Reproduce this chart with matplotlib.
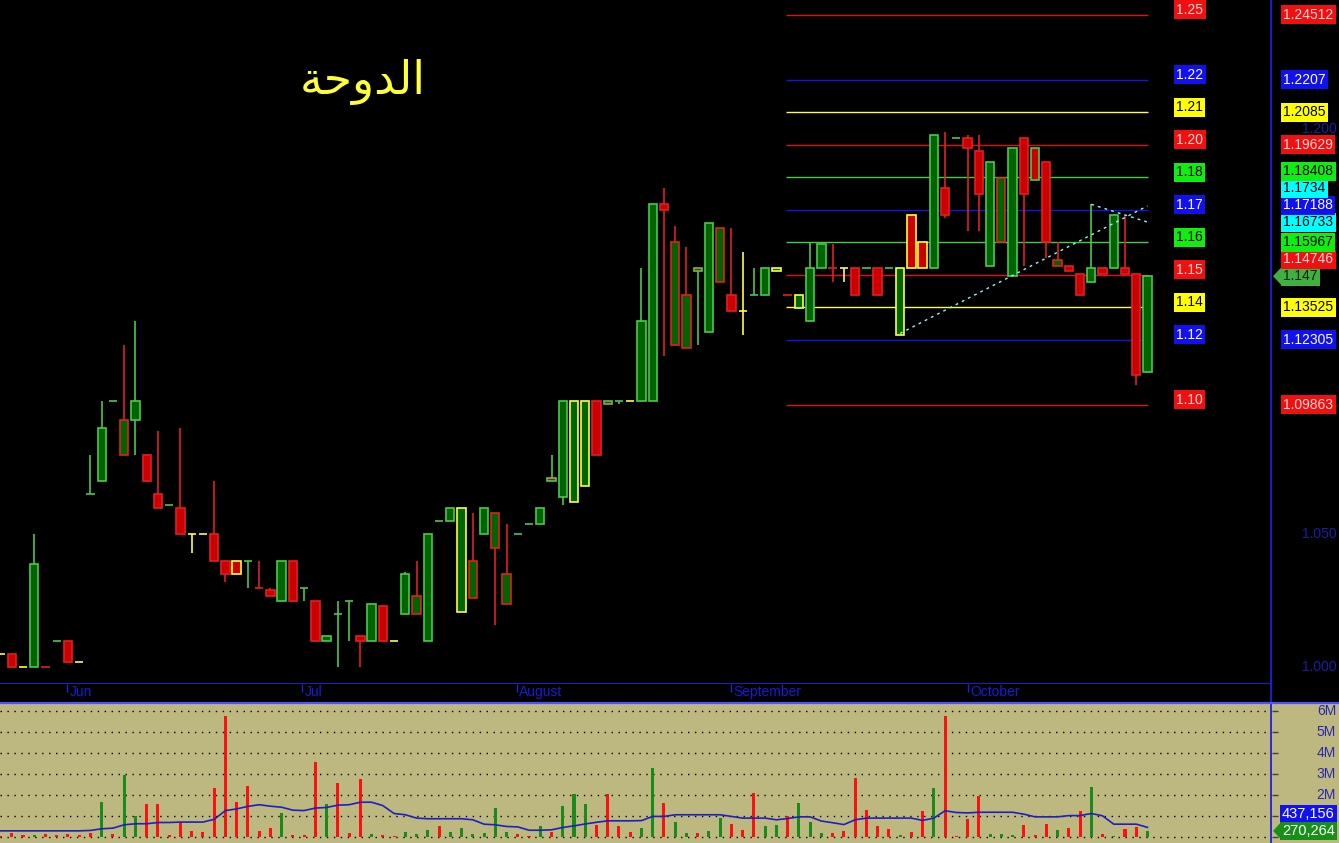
import numpy as np
import matplotlib
matplotlib.use('Agg')
import matplotlib.pyplot as plt
from matplotlib.lines import Line2D
from matplotlib.patches import Polygon

plt.rcParams['font.family'] = ['Liberation Sans', 'DejaVu Sans']

# chart title (Doha), written with Arabic presentation forms in visual order
title = '\ufe94\ufea3\ufeed\ufeaa\ufedf\ufe8d'

# daily OHLC, one entry per trading day
opens = [1.005, 1.005, 1.000, 1.000, 1.000, 1.010, 1.010, 1.002, 1.065, 1.070,
         1.100, 1.080, 1.093, 1.080, 1.065, 1.061, 1.060, 1.050, 1.050, 1.050,
         1.040, 1.040, 1.040, 1.030, 1.029, 1.025, 1.040, 1.030, 1.025, 1.010,
         1.020, 1.025, 1.012, 1.010, 1.023, 1.010, 1.020, 1.020, 1.010, 1.055,
         1.055, 1.021, 1.026, 1.050, 1.045, 1.024, 1.050, 1.054, 1.054, 1.071,
         1.064, 1.062, 1.068, 1.100, 1.100, 1.100, 1.100, 1.100, 1.100, 1.174,
         1.121, 1.120, 1.150, 1.126, 1.145, 1.140, 1.134, 1.140, 1.140, 1.149,
         1.140, 1.135, 1.130, 1.150, 1.150, 1.150, 1.150, 1.150, 1.150, 1.150,
         1.125, 1.170, 1.160, 1.150, 1.180, 1.199, 1.199, 1.194, 1.151, 1.160,
         1.147, 1.199, 1.195, 1.190, 1.151, 1.151, 1.148, 1.145, 1.150, 1.150,
         1.150, 1.148, 1.111]
highs = [1.005, 1.005, 1.000, 1.050, 1.000, 1.010, 1.010, 1.002, 1.080, 1.100,
         1.100, 1.121, 1.130, 1.080, 1.089, 1.061, 1.090, 1.050, 1.050, 1.070,
         1.040, 1.040, 1.040, 1.040, 1.030, 1.040, 1.040, 1.030, 1.025, 1.012,
         1.025, 1.025, 1.012, 1.024, 1.023, 1.010, 1.036, 1.040, 1.050, 1.055,
         1.060, 1.060, 1.058, 1.060, 1.058, 1.054, 1.050, 1.054, 1.060, 1.080,
         1.100, 1.100, 1.100, 1.100, 1.100, 1.100, 1.100, 1.150, 1.174, 1.180,
         1.166, 1.158, 1.150, 1.167, 1.165, 1.165, 1.156, 1.150, 1.150, 1.150,
         1.140, 1.140, 1.160, 1.159, 1.159, 1.150, 1.150, 1.150, 1.150, 1.150,
         1.150, 1.170, 1.160, 1.200, 1.201, 1.199, 1.200, 1.200, 1.190, 1.184,
         1.195, 1.199, 1.195, 1.190, 1.160, 1.151, 1.148, 1.174, 1.150, 1.170,
         1.170, 1.148, 1.147]
lows = [1.005, 1.000, 1.000, 1.000, 1.000, 1.010, 1.002, 1.002, 1.065, 1.070,
        1.100, 1.080, 1.080, 1.070, 1.060, 1.061, 1.050, 1.043, 1.050, 1.040,
        1.032, 1.035, 1.030, 1.030, 1.027, 1.025, 1.025, 1.025, 1.010, 1.010,
        1.000, 1.010, 1.000, 1.010, 1.010, 1.010, 1.020, 1.020, 1.010, 1.055,
        1.055, 1.021, 1.026, 1.050, 1.016, 1.024, 1.050, 1.054, 1.054, 1.070,
        1.061, 1.062, 1.068, 1.080, 1.099, 1.099, 1.100, 1.100, 1.100, 1.117,
        1.121, 1.120, 1.121, 1.126, 1.145, 1.134, 1.125, 1.140, 1.140, 1.149,
        1.140, 1.135, 1.130, 1.150, 1.145, 1.145, 1.140, 1.150, 1.140, 1.150,
        1.125, 1.150, 1.150, 1.150, 1.169, 1.199, 1.164, 1.164, 1.151, 1.160,
        1.147, 1.151, 1.183, 1.154, 1.151, 1.149, 1.140, 1.145, 1.148, 1.150,
        1.148, 1.106, 1.111]
closes = [1.005, 1.000, 1.000, 1.039, 1.000, 1.010, 1.002, 1.002, 1.065, 1.090,
          1.100, 1.093, 1.100, 1.070, 1.060, 1.061, 1.050, 1.050, 1.050, 1.040,
          1.035, 1.035, 1.040, 1.030, 1.027, 1.040, 1.025, 1.030, 1.010, 1.012,
          1.020, 1.025, 1.010, 1.024, 1.010, 1.010, 1.035, 1.027, 1.050, 1.055,
          1.060, 1.060, 1.040, 1.060, 1.058, 1.035, 1.050, 1.054, 1.060, 1.070,
          1.100, 1.100, 1.100, 1.080, 1.099, 1.100, 1.100, 1.130, 1.174, 1.172,
          1.160, 1.140, 1.149, 1.167, 1.165, 1.134, 1.134, 1.140, 1.150, 1.150,
          1.140, 1.140, 1.150, 1.159, 1.150, 1.150, 1.140, 1.150, 1.140, 1.150,
          1.150, 1.150, 1.150, 1.200, 1.170, 1.199, 1.195, 1.178, 1.190, 1.184,
          1.195, 1.178, 1.183, 1.160, 1.153, 1.149, 1.140, 1.150, 1.148, 1.170,
          1.148, 1.110, 1.147]

# volume in millions and its moving average (millions)
volume = [0.03, 0.19, 0.08, 0.06, 0.13, 0.08, 0.14, 0.08, 0.19, 1.63,
          0.11, 2.95, 0.99, 1.56, 1.56, 0.08, 0.67, 0.27, 0.22, 2.33,
          5.77, 1.67, 2.42, 0.27, 0.43, 1.13, 0.08, 0.06, 3.56, 1.56,
          2.58, 0.19, 2.76, 0.13, 0.08, 0.03, 0.22, 0.14, 0.32, 0.48,
          0.22, 0.43, 0.13, 0.18, 1.34, 0.22, 0.13, 0.03, 0.51, 0.22,
          1.47, 2.04, 1.56, 0.53, 2.04, 0.48, 0.22, 0.43, 3.27, 1.59,
          0.69, 0.18, 0.19, 0.27, 0.89, 0.59, 0.33, 2.09, 0.51, 0.57,
          0.97, 1.61, 0.70, 0.18, 0.18, 0.27, 2.81, 1.28, 0.48, 0.38,
          0.06, 0.22, 1.20, 2.34, 5.77, 0.03, 0.85, 1.95, 0.13, 0.13,
          0.06, 0.57, 0.08, 0.62, 0.32, 0.43, 1.24, 2.38, 0.13, 0.03,
          0.38, 0.45, 0.270264]
vol_ma = [0.27, 0.27, 0.27, 0.27, 0.27, 0.27, 0.27, 0.27, 0.29, 0.37,
          0.40, 0.56, 0.61, 0.61, 0.67, 0.67, 0.69, 0.69, 0.69, 0.82,
          1.24, 1.32, 1.44, 1.52, 1.45, 1.40, 1.26, 1.24, 1.36, 1.39,
          1.50, 1.52, 1.64, 1.64, 1.48, 1.10, 1.04, 0.88, 0.85, 0.85,
          0.85, 0.85, 0.80, 0.59, 0.56, 0.48, 0.46, 0.30, 0.30, 0.32,
          0.43, 0.51, 0.60, 0.68, 0.75, 0.75, 0.75, 0.76, 0.96, 0.96,
          1.04, 1.04, 1.04, 1.04, 1.04, 0.96, 0.88, 0.88, 0.88, 0.80,
          0.86, 0.94, 0.94, 0.74, 0.66, 0.57, 0.80, 0.88, 0.88, 0.88,
          0.88, 0.88, 0.77, 0.88, 1.23, 1.15, 1.13, 1.16, 1.16, 1.16,
          1.16, 1.07, 0.94, 0.94, 0.94, 1.00, 1.00, 1.10, 0.99, 0.59,
          0.59, 0.59, 0.437156]

# retracement levels drawn over the recent range
levels = [1.24512, 1.2207, 1.2085, 1.19629, 1.18408, 1.17188,
          1.15967, 1.14746, 1.13525, 1.12305, 1.09863]
level_colors = ['red', 'blue', 'yellow', 'red', 'green', 'blue',
                'green', 'red', 'yellow', 'blue', 'red']
level_start, level_end = 69.85, 102.05

# trend lines (bar index, price)
trend1_x = [80, 102]
trend1_y = [1.1255, 1.1734]
trend2_x = [97, 102]
trend2_y = [1.174, 1.16733]

month_names = ['Jun', 'Jul', 'August', 'September', 'October']
month_pos = [5.9, 26.8, 45.9, 64.95, 86.0]

# price axis labels that are not covered by the level tags
price_ticks = [1.000, 1.050, 1.200]
vol_ticks = [2, 3, 4, 5, 6]

# palette
GRN_EDGE = '#4cc84c'
GRN_FILL = '#006400'
RED_EDGE = '#e02020'
RED_FILL = '#cc0000'
YEL = '#ffff38'
box_fc = {'red': '#f01010', 'blue': '#1010f0', 'yellow': '#ffff00',
          'green': '#10ee10', 'cyan': '#00ffff'}
box_tc = {'red': '#ffd8d8', 'blue': 'white', 'yellow': 'black',
          'green': 'black', 'cyan': 'black'}
line_c = {'red': '#e01010', 'blue': '#1515e0', 'yellow': '#ffff40',
          'green': '#40d040'}
AXBLUE = '#2020e0'
TXTBLUE = '#1c1ca8'
KHAKI = '#bdb880'

W, H = 1339, 843
STEP = 11.245      # pixels per bar
PXU = 2662.0       # pixels per price unit
Y1 = 667.5         # pixel row of price 1.000
VPX = 20.9         # pixels per million shares
V0 = 836.5         # pixel row of zero volume


def ix(px):
    return (px - 0.5) / STEP


def pr(py):
    return 1 + (Y1 - py) / PXU


def vm(py):
    return (V0 - py) / VPX


fig = plt.figure(figsize=(W / 100, H / 100), dpi=100, facecolor='black')
ax = fig.add_axes([0, (H - 684) / H, 1, 684 / H])
axv = fig.add_axes([0, 0, 1, (H - 703) / H])
for a, fc in ((ax, 'black'), (axv, KHAKI)):
    a.set_facecolor(fc)
    a.set_xlim(ix(0), ix(W))
    a.set_xticks([])
    a.set_yticks([])
    for s in a.spines.values():
        s.set_visible(False)
ax.set_ylim(pr(684), pr(0))
axv.set_ylim(vm(H), vm(703))

n = len(closes)
x = np.arange(n)
o = np.array(opens)
c = np.array(closes)
prev = np.concatenate([[c[0]], c[:-1]])

edge = [GRN_EDGE if c[i] > prev[i] + 1e-9 else RED_EDGE if c[i] < prev[i] - 1e-9 else YEL
        for i in range(n)]
fill = [GRN_FILL if c[i] > o[i] else RED_FILL if c[i] < o[i] else edge[i] for i in range(n)]

ax.vlines(x, lows, highs, colors=edge, lw=1.2, zorder=3)
ax.bar(x, np.abs(c - o), width=0.74, bottom=np.minimum(o, c), color=fill,
       edgecolor=edge, lw=1.2, zorder=4)

# levels and their labels
ax.hlines(levels, level_start, level_end, colors=[line_c[k] for k in level_colors],
          lw=1, zorder=2)
for v, k in zip(levels, level_colors):
    ax.text(ix(1176), v + 5 / PXU, f'{v:.2f}', fontsize=10, color=box_tc[k],
            va='center', ha='left', zorder=6,
            bbox=dict(boxstyle='square,pad=0.18', fc=box_fc[k], ec='none'))

ax.plot(trend1_x, trend1_y, color='#80ffff', lw=1, ls=(0, (2, 3)), zorder=5)
ax.plot(trend2_x, trend2_y, color='#80ffff', lw=1, ls=(0, (2, 3)), zorder=5)

# right price axis
for v in price_ticks:
    lift = 6 / PXU if v == 1.200 else 0
    ax.text(ix(1337), v + lift, f'{v:.3f}', fontsize=10, color=TXTBLUE, ha='right',
            va='center', zorder=1, clip_on=False)

tags = [(v, k, False) for v, k in zip(levels, level_colors)]
tags += [(trend1_y[-1], 'cyan', False), (trend2_y[-1], 'cyan', False),
         (closes[-1], 'last', True)]
tags.sort(key=lambda t: t[0])
gap = 17 / PXU
pos = -1.0
for v, k, arrow in tags:
    pos = max(v, pos + gap)
    if arrow:
        fc, tc = '#40b040', '#102010'
        ax.add_patch(Polygon([[ix(1273), pos], [ix(1281), pos + 8.5 / PXU],
                              [ix(1281), pos - 8.5 / PXU]], closed=True,
                             fc=fc, ec='none', zorder=6))
    else:
        fc, tc = box_fc[k], box_tc[k]
    ax.text(ix(1283), pos, f'{v:g}', fontsize=10, color=tc, ha='left', va='center',
            zorder=7, bbox=dict(boxstyle='square,pad=0.18', fc=fc, ec='none'))

# frame lines
ax.axhline(pr(684) + 0.3 / PXU, xmax=1271 / W, color=AXBLUE, lw=1.3, zorder=8)
fig.add_artist(Line2D([1271 / W, 1271 / W], [0, 1], color=AXBLUE, lw=1.3))
fig.add_artist(Line2D([0, 1], [(H - 703) / H, (H - 703) / H], color='#5050ff', lw=1.6))

# month labels
ax.vlines(month_pos, pr(684), pr(692), colors=AXBLUE, lw=1, clip_on=False)
for p, name in zip(month_pos, month_names):
    ax.text(p + 0.25, pr(692.5), name, fontsize=10, color='#1a1ad8', ha='left',
            va='center', clip_on=False)

# volume panel
vx_end = ix(1271)
axv.hlines(range(0, 7), ix(0), vx_end, colors='black', lw=1, linestyles=(0, (1, 4)),
           zorder=1)
axv.hlines(range(0, 7), ix(1272), ix(1278), colors='#404040', lw=1, zorder=1)
vcol = ['#1a8a1a' if c[i] > o[i] else '#ff1010' for i in range(n)]
axv.bar(x, volume, width=0.27, color=vcol, zorder=3)
axv.plot(x, vol_ma, color='#2020c0', lw=1.2, zorder=4)
for v in vol_ticks:
    axv.text(ix(1336), v, f'{v}M', fontsize=10, color='#2828b0', ha='right',
             va='center', zorder=2)

vgap = 17 / VPX
v_last = volume[-1]
ma_pos = max(vol_ma[-1], v_last + vgap)
axv.text(ix(1282), ma_pos, f'{round(vol_ma[-1] * 1e6):,}', fontsize=10.5, color='white',
         ha='left', va='center', zorder=7,
         bbox=dict(boxstyle='square,pad=0.15', fc='#1010f0', ec='none'))
axv.add_patch(Polygon([[ix(1273), v_last], [ix(1281), v_last + 8.5 / VPX],
                       [ix(1281), v_last - 8.5 / VPX]], closed=True,
                      fc='#189018', ec='none', zorder=6))
axv.text(ix(1282), v_last, f'{round(v_last * 1e6):,}', fontsize=10.5, color='white',
         ha='left', va='center', zorder=7,
         bbox=dict(boxstyle='square,pad=0.15', fc='#189018', ec='none'))

fig.text(363 / W, 1 - 82 / H, title, fontsize=33, color='#ffff38', ha='center',
         va='center', family='DejaVu Sans')

fig.savefig('out.png', dpi=100, facecolor='black')
